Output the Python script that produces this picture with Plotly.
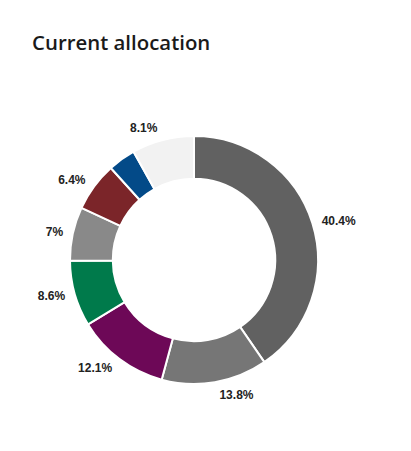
import plotly.graph_objects as go

# slices, clockwise from 12 o'clock
segments = ["A", "B", "C", "D", "E", "F", "G", "H"]
shares = [40.4, 13.8, 12.1, 8.6, 7.0, 6.4, 3.6, 8.1]
share_labels = ["40.4%", "13.8%", "12.1%", "8.6%", "7%", "6.4%", "", "8.1%"]
slice_colors = ["#616161", "#767676", "#6d0857", "#007a4b", "#898989", "#7b2529", "#034a88", "#f2f2f2"]

W, H = 411, 451
cx, cy = 186, 252      # ring centre (px, from top-left of the plot div)
r_ring, r_text = 124, 130


def dom(r):
    return dict(x=[(cx - r) / W, (cx + r) / W], y=[1 - (cy + r) / H, 1 - (cy - r) / H])


fig = go.Figure()
fig.add_trace(go.Pie(
    labels=segments, values=shares,
    textinfo="none", hole=0.655,
    sort=False, direction="clockwise", rotation=0,
    marker=dict(colors=slice_colors, line=dict(color="white", width=2)),
    showlegend=False, hoverinfo="label+percent",
    domain=dom(r_ring),
))
# transparent, slightly larger copy that only carries the outside labels
fig.add_trace(go.Pie(
    labels=segments, values=shares,
    text=share_labels, textinfo="text", textposition="outside",
    hole=0.95, sort=False, direction="clockwise", rotation=0,
    marker=dict(colors=["rgba(0,0,0,0)"] * len(shares), line=dict(width=0)),
    outsidetextfont=dict(family="Liberation Sans", size=12, color="#222222", weight="bold"),
    showlegend=False, hoverinfo="skip",
    domain=dom(r_text),
))

fig.update_layout(
    width=W, height=H,
    margin=dict(l=0, r=0, t=0, b=0),
    paper_bgcolor="white",
    plot_bgcolor="white",
    title=dict(text="Current allocation", x=24 / W, xanchor="left", y=1 - 35 / H, yanchor="middle",
               font=dict(family="Open Sans", size=20.4, color="#1a1a1a", weight=600)),
)

fig.write_html("out.html")
